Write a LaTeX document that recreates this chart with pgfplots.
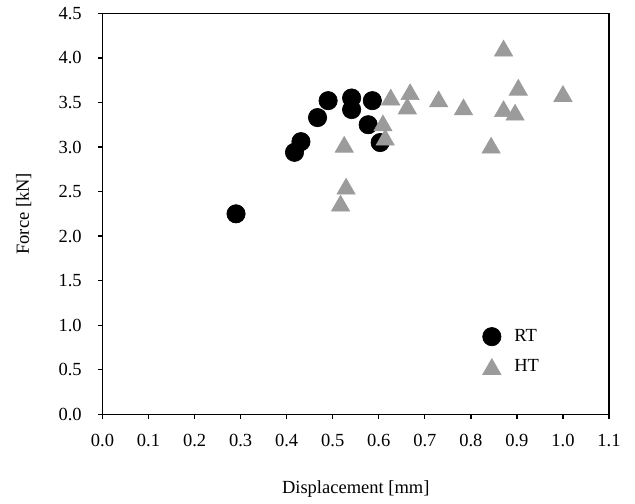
\documentclass[border=0pt]{standalone}
\usepackage{fontspec}
\setmainfont{Liberation Serif}
\usepackage{pgfplots}
\pgfplotsset{compat=1.18}
\definecolor{htgray}{RGB}{155,155,155}
\begin{document}
\fontsize{11.1bp}{13bp}\selectfont
\begin{tikzpicture}
\begin{axis}[
  scale only axis,
  width=303.9bp, height=240.6bp,
  xmin=0, xmax=1.1, ymin=0, ymax=4.5,
  xtick={0,0.1,...,1.1}, ytick={0,0.5,...,4.5},
  xticklabels={0.0,0.1,0.2,0.3,0.4,0.5,0.6,0.7,0.8,0.9,1.0,1.1},
  yticklabels={0.0,0.5,1.0,1.5,2.0,2.5,3.0,3.5,4.0,4.5},
  /pgf/number format/assume math mode=true,
  tick align=outside, tick pos=left,
  major tick length=2.8bp,
  axis line style={line width=0.8bp},
  every tick/.style={black, line width=0.8bp},
  tick label style={font=\fontsize{11.1bp}{13bp}\selectfont},
  xticklabel style={yshift=-5bp},
  yticklabel style={xshift=-5.8bp},
  xlabel={Displacement [mm]},
  ylabel={Force [kN]},
  label style={font=\fontsize{11.1bp}{13bp}\selectfont},
  xlabel style={at={(axis description cs:0.5,0)}, anchor=center, yshift=-44.7bp},
  ylabel style={at={(axis description cs:0,0.5)}, anchor=center, yshift=47.3bp},
  legend style={draw=none, fill=none, at={(0.7664,0.1565)}, anchor=west, xshift=-8bp,
    row sep=5bp, font=\fontsize{11.1bp}{13bp}\selectfont},
  legend cell align=left,
  clip=false,
]
\addplot[only marks, mark=*, mark size=5.5bp, black, mark options={fill=black, draw=black}]
coordinates {
(0.29,2.25)
(0.417,2.94)
(0.431,3.06)
(0.467,3.33)
(0.490,3.52)
(0.541,3.55)
(0.541,3.42)
(0.586,3.52)
(0.577,3.25)
(0.603,3.05)
};
\addlegendentry{\hspace{6bp}RT}
\addplot[only marks, mark=triangle*, mark size=6.3bp, htgray, mark options={fill=htgray, draw=htgray, yshift=-1.6bp}]
coordinates {
(0.517,2.37)
(0.529,2.56)
(0.525,3.03)
(0.609,3.27)
(0.614,3.11)
(0.626,3.56)
(0.668,3.62)
(0.662,3.46)
(0.730,3.54)
(0.784,3.45)
(0.844,3.02)
(0.871,4.11)
(0.871,3.43)
(0.896,3.39)
(0.903,3.67)
(1.000,3.60)
};
\addlegendentry{\hspace{6bp}HT}
\end{axis}
\path ([xshift=-61.5bp,yshift=-52bp]current axis.south west) rectangle ([xshift=15.6bp,yshift=8bp]current axis.north east);
\end{tikzpicture}
\end{document}
